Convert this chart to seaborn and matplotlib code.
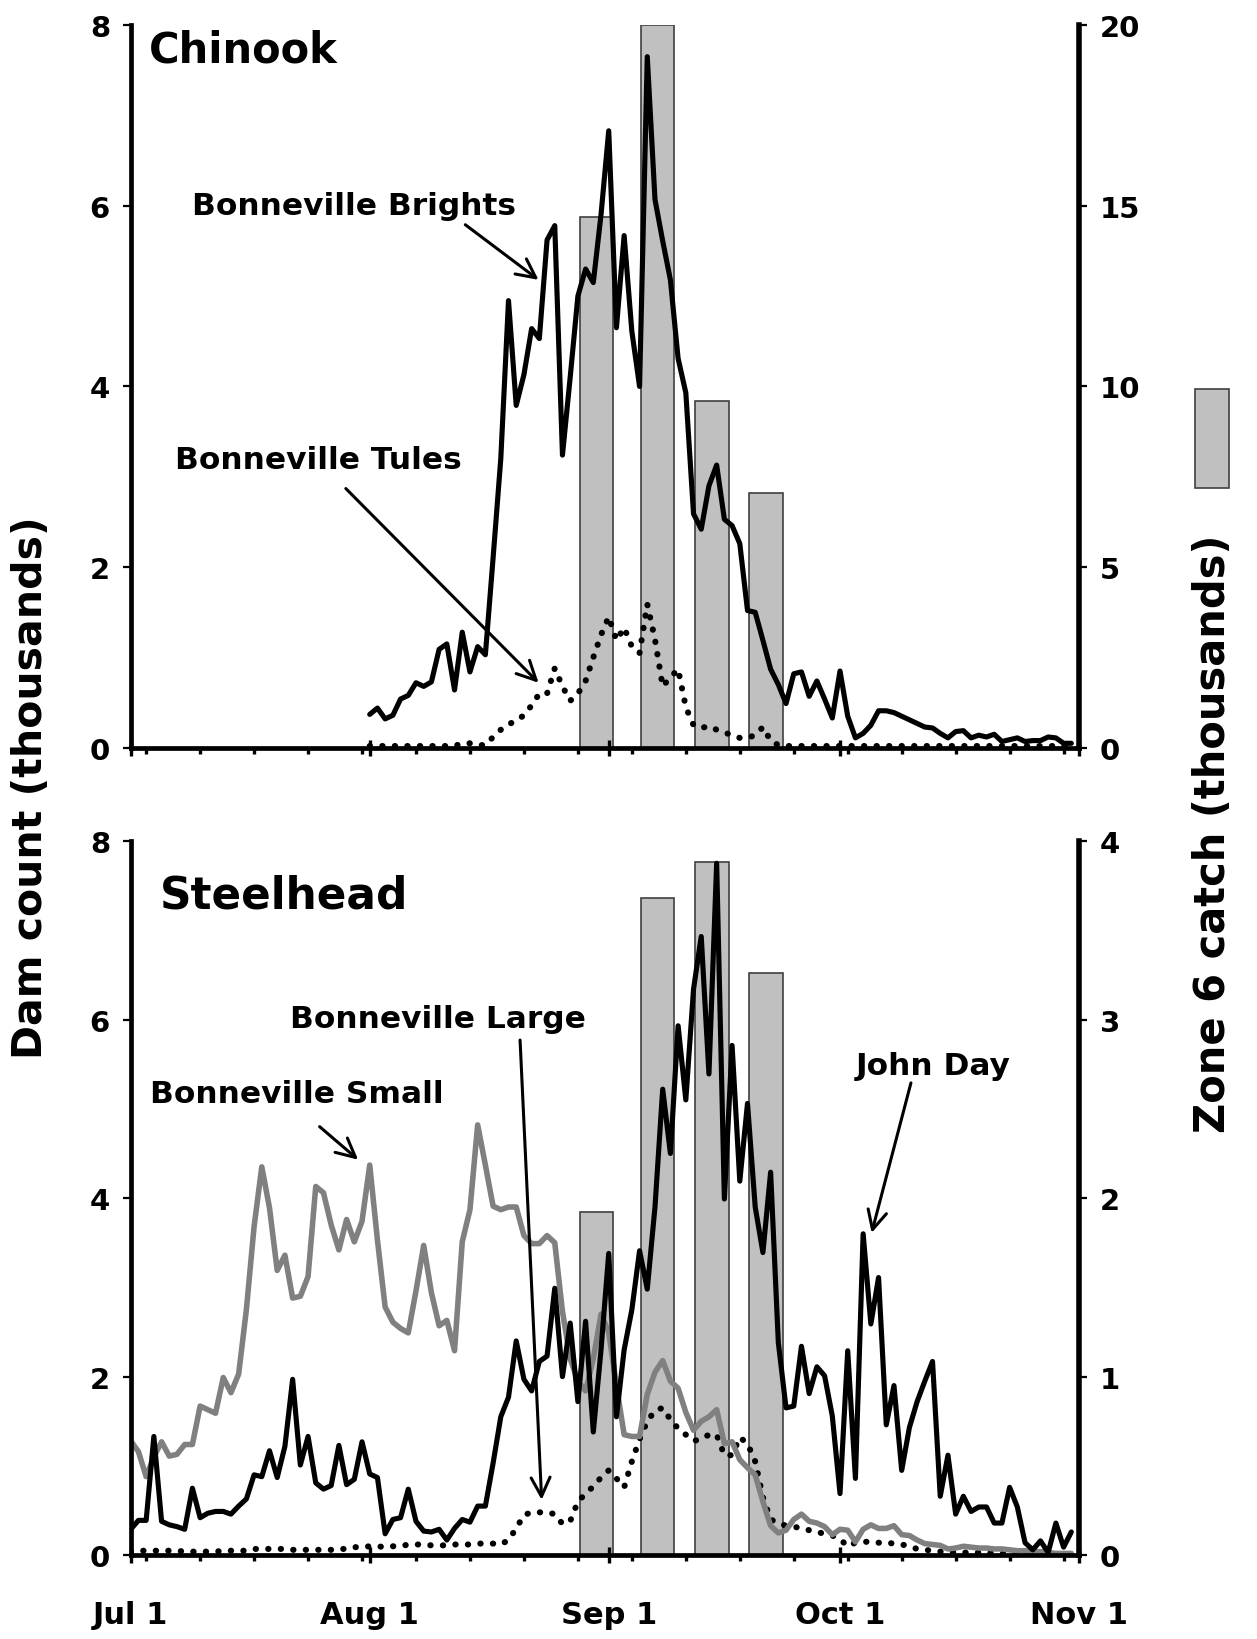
import matplotlib
matplotlib.use("Agg")
import matplotlib.pyplot as plt
from matplotlib.patches import Rectangle
import numpy as np
import seaborn as sns

# ---------------------------------------------------------------
# Data (counts in thousands); x axis = days after July 1
# ---------------------------------------------------------------
month_ticks = [0, 31, 62, 92, 123]
month_labels = ["Jul 1", "Aug 1", "Sep 1", "Oct 1", "Nov 1"]

# Weekly zone 6 catch (thousands), plotted at the middle of each week
catch_days = [60.4, 68.3, 75.4, 82.4]
chinook_catch = [14.7, 20.0, 9.6, 7.06]
steelhead_catch = [1.92, 3.68, 3.88, 3.26]

# Chinook daily dam counts, starting Aug 1 (day 31)
chinook_start = 31
bonneville_brights = [
    0.37, 0.44, 0.32, 0.36, 0.54, 0.58, 0.72, 0.68, 0.73, 1.09,
    1.15, 0.64, 1.28, 0.84, 1.12, 1.03, 2.10, 3.20, 4.95, 3.79,
    4.13, 4.64, 4.53, 5.62, 5.78, 3.24, 4.10, 5.00, 5.30, 5.15,
    5.90, 6.83, 4.65, 5.67, 4.61, 4.00, 7.65, 6.07, 5.61, 5.18,
    4.31, 3.93, 2.59, 2.42, 2.90, 3.13, 2.53, 2.46, 2.26, 1.52,
    1.50, 1.19, 0.87, 0.70, 0.49, 0.82, 0.84, 0.57, 0.74, 0.54,
    0.33, 0.85, 0.35, 0.11, 0.16, 0.25, 0.41, 0.41, 0.39, 0.35,
    0.31, 0.27, 0.23, 0.22, 0.16, 0.11, 0.18, 0.19, 0.11, 0.14,
    0.12, 0.15, 0.07, 0.09, 0.11, 0.07, 0.08, 0.08, 0.12, 0.11,
    0.05, 0.05,
]
bonneville_tules = [
    0.02, 0.02, 0.02, 0.02, 0.02, 0.02, 0.02, 0.02, 0.02, 0.02,
    0.02, 0.02, 0.05, 0.05, 0.03, 0.03, 0.12, 0.20, 0.26, 0.30,
    0.36, 0.47, 0.60, 0.60, 0.88, 0.68, 0.52, 0.60, 0.74, 1.00,
    1.25, 1.45, 1.19, 1.33, 1.12, 1.05, 1.59, 1.20, 0.68, 0.78,
    0.87, 0.45, 0.25, 0.22, 0.24, 0.20, 0.17, 0.14, 0.11, 0.11,
    0.14, 0.23, 0.08, 0.03, 0.02, 0.02, 0.02, 0.02, 0.02, 0.02,
    0.02, 0.02, 0.02, 0.02, 0.02, 0.02, 0.02, 0.02, 0.02, 0.02,
    0.02, 0.02, 0.02, 0.02, 0.02, 0.02, 0.02, 0.02, 0.02, 0.02,
    0.02, 0.02, 0.02, 0.02, 0.02, 0.02, 0.02, 0.02, 0.02, 0.02,
    0.02, 0.02,
]

# Steelhead daily dam counts, starting Jul 1 (day 0)
steelhead_start = 0
john_day = [
    0.29, 0.39, 0.39, 1.33, 0.38, 0.34, 0.32, 0.29, 0.75, 0.42,
    0.47, 0.49, 0.49, 0.46, 0.55, 0.63, 0.90, 0.88, 1.17, 0.87,
    1.22, 1.97, 1.01, 1.33, 0.81, 0.74, 0.78, 1.23, 0.79, 0.85,
    1.27, 0.91, 0.87, 0.24, 0.40, 0.42, 0.74, 0.38, 0.27, 0.26,
    0.29, 0.17, 0.30, 0.40, 0.37, 0.55, 0.55, 1.03, 1.55, 1.77,
    2.40, 1.97, 1.84, 2.17, 2.23, 2.99, 2.00, 2.60, 1.72, 2.62,
    1.38, 2.30, 3.38, 1.55, 2.30, 2.75, 3.41, 2.98, 3.90, 5.22,
    4.50, 5.93, 5.10, 6.34, 6.93, 5.39, 7.75, 3.99, 5.71, 4.19,
    5.06, 3.90, 3.39, 4.29, 2.38, 1.65, 1.67, 2.34, 1.81, 2.11,
    2.01, 1.56, 0.69, 2.29, 0.86, 3.60, 2.59, 3.11, 1.46, 1.90,
    0.95, 1.43, 1.72, 1.95, 2.17, 0.66, 1.12, 0.46, 0.66, 0.49,
    0.54, 0.54, 0.36, 0.36, 0.76, 0.54, 0.14, 0.06, 0.16, 0.03,
    0.36, 0.09, 0.26,
]
bonneville_small = [
    1.28, 1.16, 0.88, 1.10, 1.27, 1.11, 1.13, 1.24, 1.24, 1.67,
    1.63, 1.59, 1.99, 1.82, 2.03, 2.75, 3.68, 4.35, 3.89, 3.19,
    3.36, 2.88, 2.90, 3.12, 4.13, 4.06, 3.70, 3.42, 3.76, 3.51,
    3.74, 4.37, 3.53, 2.78, 2.61, 2.54, 2.49, 2.96, 3.47, 2.94,
    2.57, 2.63, 2.29, 3.51, 3.87, 4.82, 4.37, 3.91, 3.87, 3.90,
    3.90, 3.58, 3.49, 3.49, 3.58, 3.50, 2.73, 2.20, 1.95, 1.84,
    2.20, 2.70, 2.50, 1.90, 1.35, 1.33, 1.33, 1.80, 2.05, 2.18,
    1.95, 1.87, 1.60, 1.40, 1.50, 1.55, 1.63, 1.25, 1.27, 1.07,
    0.98, 0.90, 0.60, 0.33, 0.25, 0.28, 0.40, 0.46, 0.38, 0.36,
    0.32, 0.23, 0.29, 0.28, 0.15, 0.29, 0.34, 0.30, 0.30, 0.33,
    0.23, 0.22, 0.17, 0.13, 0.12, 0.11, 0.07, 0.08, 0.10, 0.09,
    0.08, 0.08, 0.07, 0.07, 0.06, 0.05, 0.05, 0.04, 0.04, 0.03,
    0.02, 0.02, 0.02,
]
bonneville_large = [
    0.04, 0.05, 0.05, 0.05, 0.05, 0.05, 0.05, 0.04, 0.04, 0.04,
    0.04, 0.04, 0.05, 0.05, 0.05, 0.05, 0.07, 0.07, 0.07, 0.07,
    0.07, 0.06, 0.06, 0.06, 0.06, 0.06, 0.06, 0.07, 0.07, 0.09,
    0.09, 0.10, 0.10, 0.09, 0.10, 0.10, 0.12, 0.12, 0.12, 0.11,
    0.11, 0.11, 0.12, 0.12, 0.12, 0.13, 0.13, 0.13, 0.12, 0.17,
    0.30, 0.45, 0.48, 0.48, 0.48, 0.46, 0.35, 0.38, 0.60, 0.69,
    0.77, 0.87, 0.95, 0.86, 0.76, 1.05, 1.30, 1.50, 1.62, 1.65,
    1.52, 1.42, 1.35, 1.28, 1.30, 1.35, 1.35, 1.12, 1.12, 1.32,
    1.25, 1.05, 0.65, 0.40, 0.36, 0.33, 0.32, 0.30, 0.28, 0.26,
    0.24, 0.22, 0.18, 0.10, 0.14, 0.15, 0.15, 0.14, 0.14, 0.13,
    0.12, 0.10, 0.07, 0.06, 0.05, 0.04, 0.04, 0.03, 0.03, 0.03,
    0.03, 0.03, 0.02, 0.02, 0.02, 0.02, 0.02, 0.02, 0.02, 0.01,
    0.01, 0.01, 0.01,
]

# ---------------------------------------------------------------
# Styling
# ---------------------------------------------------------------
sns.set_theme(style="ticks")
plt.rcParams["font.family"] = ["DejaVu Sans"]
plt.rcParams["font.weight"] = "bold"
plt.rcParams["axes.labelweight"] = "bold"
plt.rcParams["text.color"] = "black"
plt.rcParams["xtick.color"] = "black"
plt.rcParams["ytick.color"] = "black"

BAR_FILL = "#C0C0C0"
BAR_EDGE = "#404040"
GREY_LINE = "#808080"
SPINE_W = 3.4
LINE_W = 3.7
DOT_W = 4.4
DOTS = (0, (0.05, 2.0))

fig = plt.figure(figsize=(12.57, 16.40), dpi=100)
ax_top = fig.add_axes([0.104, 0.5434, 0.7544, 0.4407])
ax_bot = fig.add_axes([0.104, 0.0511, 0.7544, 0.4355])


def days(start, values):
    return np.arange(start, start + len(values))


def style_panel(ax, twin, right_ticks, show_xlabels):
    ax.set_zorder(twin.get_zorder() + 1)
    ax.patch.set_visible(False)
    ax.set_xlim(0, 123)
    ax.set_ylim(0, 8)
    twin.set_ylim(0, right_ticks[-1])
    ax.set_yticks([0, 2, 4, 6, 8])
    twin.set_yticks(right_ticks)
    ax.set_xticks(month_ticks)
    ax.set_xticks(np.arange(2, 123, 7), minor=True)
    ax.set_xticklabels(month_labels if show_xlabels else [])
    ax.set_xlabel("")
    ax.set_ylabel("")
    twin.set_xlabel("")
    twin.set_ylabel("")
    for name in ("top", "right"):
        ax.spines[name].set_visible(False)
    for name in ("top", "left", "bottom"):
        twin.spines[name].set_visible(False)
    ax.spines["left"].set_linewidth(SPINE_W)
    ax.spines["bottom"].set_linewidth(SPINE_W)
    twin.spines["right"].set_linewidth(SPINE_W + 0.6)
    for s in (ax.spines["left"], ax.spines["bottom"], twin.spines["right"]):
        s.set_color("black")
    ax.tick_params(axis="y", direction="out", length=6, width=1.6,
                   labelsize=21, pad=9, colors="black")
    twin.tick_params(axis="y", direction="out", length=6, width=1.6,
                     labelsize=21, pad=9, colors="black")
    ax.tick_params(axis="x", which="major", direction="inout", length=11,
                   width=2.4, labelsize=22, pad=27, colors="black")
    ax.tick_params(axis="x", which="minor", direction="out", length=4,
                   width=2.4, colors="black")


def arrow(ax, start, end):
    ax.annotate("", xy=end, xytext=start,
                arrowprops=dict(arrowstyle="->", lw=2.2, color="black",
                                mutation_scale=34, shrinkA=0, shrinkB=0))


def label(ax, x, y, s, size=22.5, ha="center"):
    ax.text(x, y, s, fontsize=size, fontweight="bold", ha=ha, va="center",
            color="black")


# ---------------------------------------------------------------
# Chinook panel
# ---------------------------------------------------------------
tw_top = ax_top.twinx()
sns.barplot(x=catch_days, y=chinook_catch, ax=tw_top, native_scale=True,
            width=0.62, color=BAR_FILL, saturation=1, edgecolor=BAR_EDGE,
            linewidth=1.2, errorbar=None, orient="x")
sns.lineplot(x=days(chinook_start, bonneville_tules), y=bonneville_tules,
             ax=ax_top, color="black", linewidth=DOT_W, linestyle=DOTS,
             dash_capstyle="round", estimator=None)
sns.lineplot(x=days(chinook_start, bonneville_brights), y=bonneville_brights,
             ax=ax_top, color="black", linewidth=LINE_W, estimator=None)
style_panel(ax_top, tw_top, [0, 5, 10, 15, 20], show_xlabels=False)

ax_top.text(2.4, 7.73, "Chinook", fontsize=30, fontweight="bold",
            ha="left", va="center", color="black")
label(ax_top, 28.9, 6.0, "Bonneville Brights")
arrow(ax_top, (43.4, 5.79), (52.9, 5.18))
label(ax_top, 24.3, 3.19, "Bonneville Tules")
arrow(ax_top, (27.9, 2.87), (52.9, 0.72))

# ---------------------------------------------------------------
# Steelhead panel
# ---------------------------------------------------------------
tw_bot = ax_bot.twinx()
sns.barplot(x=catch_days, y=steelhead_catch, ax=tw_bot, native_scale=True,
            width=0.62, color=BAR_FILL, saturation=1, edgecolor=BAR_EDGE,
            linewidth=1.2, errorbar=None, orient="x")
sns.lineplot(x=days(steelhead_start, bonneville_large), y=bonneville_large,
             ax=ax_bot, color="black", linewidth=DOT_W, linestyle=DOTS,
             dash_capstyle="round", estimator=None)
sns.lineplot(x=days(steelhead_start, bonneville_small), y=bonneville_small,
             ax=ax_bot, color=GREY_LINE, linewidth=LINE_W + 0.3,
             estimator=None)
sns.lineplot(x=days(steelhead_start, john_day), y=john_day,
             ax=ax_bot, color="black", linewidth=LINE_W, estimator=None)
style_panel(ax_bot, tw_bot, [0, 1, 2, 3, 4], show_xlabels=True)

ax_bot.text(3.8, 7.39, "Steelhead", fontsize=31.5, fontweight="bold",
            ha="left", va="center", color="black")
label(ax_bot, 39.9, 6.01, "Bonneville Large")
arrow(ax_bot, (50.5, 5.77), (53.3, 0.62))
label(ax_bot, 21.5, 5.17, "Bonneville Small")
arrow(ax_bot, (24.5, 4.80), (29.5, 4.43))
label(ax_bot, 104.1, 5.48, "John Day")
arrow(ax_bot, (101.2, 5.29), (96.1, 3.61))

# ---------------------------------------------------------------
# Shared axis titles and bar key
# ---------------------------------------------------------------
fig.text(0.0247, 0.520, "Dam count (thousands)", rotation=90, fontsize=29.5,
         fontweight="bold", ha="center", va="center", color="black")
fig.text(0.965, 0.4915, "Zone 6 catch (thousands)", rotation=90, fontsize=30,
         fontweight="bold", ha="center", va="center", color="black")
fig.add_artist(Rectangle((0.9507, 0.7018), 0.027, 0.0604,
                         transform=fig.transFigure, facecolor=BAR_FILL,
                         edgecolor=BAR_EDGE, linewidth=1.2))

fig.savefig("out.png", dpi=100)
